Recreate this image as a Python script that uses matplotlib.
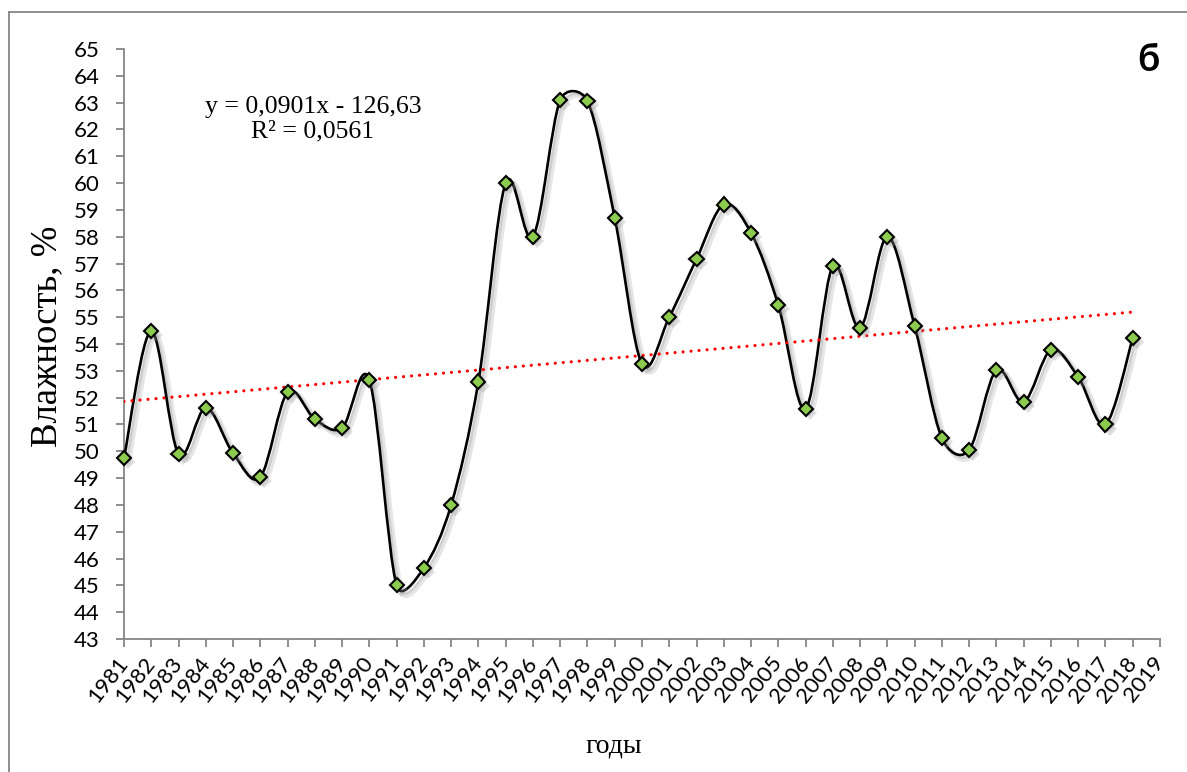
import numpy as np
import matplotlib
matplotlib.use("Agg")
import matplotlib.pyplot as plt
from matplotlib.path import Path
from matplotlib.patches import PathPatch
from matplotlib.lines import Line2D
import matplotlib.patheffects as pe

# ---------------- data ----------------
years = list(range(1981, 2019))
humidity = [49.75, 54.48, 49.9, 51.62, 49.93, 49.04, 52.2, 51.2, 50.87, 52.66,
            45.0, 45.65, 48.0, 52.6, 60.0, 58.0, 63.1, 63.06, 58.7, 53.25,
            55.0, 57.17, 59.2, 58.14, 55.45, 51.58, 56.9, 54.6, 58.0, 54.67,
            50.49, 50.05, 53.03, 51.84, 53.78, 52.77, 51.0, 54.22]
tick_years = list(range(1981, 2020))
y_ticks = list(range(43, 66))
trend_slope = 0.0901
trend_intercept = -126.63
eq_text = "y = 0,0901x - 126,63\nR² = 0,0561"
ylabel = "Влажность, %"
xlabel = "годы"
panel = "б"

W, H = 1187, 772
fig = plt.figure(figsize=(W / 100, H / 100), dpi=100)
fig.patch.set_facecolor("white")

def fx(px):
    return px / W

def fy(py):
    return 1 - py / H

ax = fig.add_axes([fx(124), fy(639), fx(1160) - fx(124), fy(49) - fy(639)])
ax.set_xlim(1981, 2019)
ax.set_ylim(43, 65)

grey = "#868686"
for s in ["top", "right"]:
    ax.spines[s].set_visible(False)
for s in ["left", "bottom"]:
    ax.spines[s].set_color(grey)
    ax.spines[s].set_linewidth(1.3)

ax.set_yticks(y_ticks)
ax.set_xticks(tick_years)
ax.tick_params(axis="both", direction="out", length=5.5, width=1.3, color=grey)
ax.tick_params(axis="y", pad=12)
ax.tick_params(axis="x", pad=9)
tick_font = dict(family="Lato", size=16)
ax.set_yticklabels([str(v) for v in y_ticks], **tick_font)
ax.set_xticklabels([str(v) for v in tick_years], rotation=52, ha="right",
                   va="center", rotation_mode="anchor", **tick_font)

# -------- smoothed line (Excel-style Bezier), computed in display space --------
pts_data = np.column_stack([years, humidity]).astype(float)
pts = ax.transData.transform(pts_data)
n = len(pts)
verts = [pts[0]]
codes = [Path.MOVETO]
for i in range(n - 1):
    p0 = pts[i - 1] if i > 0 else pts[i]
    p1 = pts[i]
    p2 = pts[i + 1]
    p3 = pts[i + 2] if i + 2 < n else pts[i + 1]
    d12 = np.hypot(*(p2 - p1))
    d02 = np.hypot(*(p2 - p0))
    d13 = np.hypot(*(p3 - p1))
    f0 = 1 / 6 if d02 == 0 else min(1 / 6, d12 / (2 * d02))
    f3 = 1 / 6 if d13 == 0 else min(1 / 6, d12 / (2 * d13))
    c1 = p1 + (p2 - p0) * f0
    c2 = p2 - (p3 - p1) * f3
    verts += [c1, c2, p2]
    codes += [Path.CURVE4] * 3
verts_data = ax.transData.inverted().transform(np.array(verts))
curve = PathPatch(Path(verts_data, codes), facecolor="none", edgecolor="black",
                  linewidth=1.9, zorder=3, capstyle="round", joinstyle="round")
curve.set_path_effects([
    pe.SimpleLineShadow(offset=(3, -3), shadow_color="#9a9a9a", alpha=0.25, linewidth=4),
    pe.SimpleLineShadow(offset=(2, -2), shadow_color="#9a9a9a", alpha=0.3),
    pe.Normal()])
ax.add_patch(curve)

# markers
mk, = ax.plot(years, humidity, linestyle="none", marker="D", markersize=7.2,
              markerfacecolor="#8DCB4E", markeredgecolor="black",
              markeredgewidth=1.5, zorder=5, clip_on=False)
mk.set_path_effects([
    pe.SimplePatchShadow(offset=(3, -3), shadow_rgbFace="#9a9a9a", alpha=0.3),
    pe.Normal()])

# trend line
tx = np.array([years[0], years[-1]], dtype=float)
ty = trend_slope * tx + trend_intercept
tl = Line2D(tx, ty, color="#FF0000", linewidth=2.3, zorder=4,
            dash_capstyle="round")
tl.set_dashes([0.01, 2.5])
ax.add_line(tl)

# texts
fig.text(fx(313), fy(119), eq_text, family="Liberation Serif", size=18.5,
         ha="center", va="center", linespacing=1.15)
fig.text(fx(1148), fy(60), panel, family="Lato", weight="bold", size=27,
         ha="center", va="center")
fig.text(fx(47), fy(336), ylabel, family="Liberation Serif", size=26.5,
         rotation=90, ha="center", va="center")
fig.text(fx(614), fy(746), xlabel, family="Liberation Serif", size=20,
         ha="center", va="center")

# outer chart border (left and top visible)
fig.add_artist(Line2D([fx(9.5), fx(9.5)], [0, fy(11.5)], color=grey, lw=1.3,
                      transform=fig.transFigure))
fig.add_artist(Line2D([fx(9.5), 1], [fy(11.5), fy(11.5)], color=grey, lw=1.3,
                      transform=fig.transFigure))

fig.savefig("out.png", dpi=100, facecolor="white")
